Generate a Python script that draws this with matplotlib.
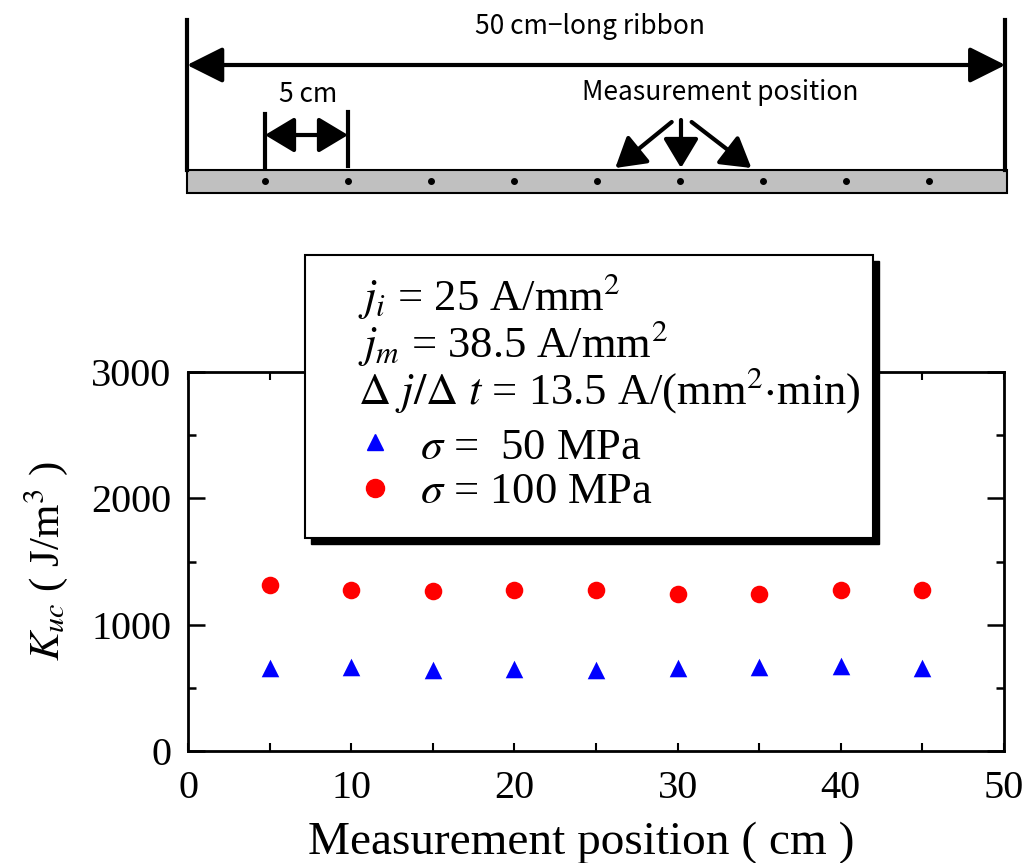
import matplotlib
matplotlib.use("Agg")
import matplotlib.pyplot as plt
from matplotlib.patches import Rectangle

# Posicoes de medida ao longo da fita (cm)
positions = [5, 10, 15, 20, 25, 30, 35, 40, 45]

# K_uc (J/m^3)
kuc_50mpa = [657, 665, 641, 649, 641, 657, 665, 673, 657]
kuc_100mpa = [1317, 1277, 1267, 1277, 1271, 1245, 1245, 1271, 1277]

legend_lines = [
    r"$j_i$ = 25 A/mm$^2$",
    r"$j_m$ = 38.5 A/mm$^2$",
    r"$\mathit{\Delta\ j/\Delta\ t}$ = 13.5 A/(mm$^2$$\cdot$min)",
]
series_labels = [r"$\sigma$ =  50 MPa", r"$\sigma$ = 100 MPa"]

plt.rcParams["font.family"] = ["Liberation Serif", "DejaVu Serif"]
plt.rcParams["mathtext.fontset"] = "stix"

W, H = 1027, 863
fig = plt.figure(figsize=(W / 100, H / 100), dpi=100)

# ---- grafico principal ----
ax = fig.add_axes([188 / W, 1 - 751 / H, (1004 - 188) / W, (751 - 372) / H])
ax.scatter(positions, kuc_50mpa, marker="^", s=160, color="#0000ff", zorder=3, linewidths=0)
ax.scatter(positions, kuc_100mpa, marker="o", s=160, color="#ff0000", zorder=3, linewidths=0)

ax.set_xlim(0, 50)
ax.set_ylim(0, 3000)
ax.set_xticks([0, 10, 20, 30, 40, 50])
ax.set_xticks([5, 15, 25, 35, 45], minor=True)
ax.set_yticks([0, 1000, 2000, 3000])
ax.set_yticks([500, 1500, 2500], minor=True)
for s in ax.spines.values():
    s.set_linewidth(2)
ax.tick_params(axis="x", which="both", direction="in", length=6, width=1.5,
               top=True, labelsize=29, pad=14)
ax.tick_params(axis="y", which="major", direction="in", length=12, width=1.8,
               right=True, labelsize=29, pad=12)
ax.tick_params(axis="y", which="minor", direction="in", length=6, width=1.8, right=True)
ax.set_xlabel("Measurement position ( cm )", fontsize=34)
ax.xaxis.set_label_coords(0.482, -0.185)
ax.set_ylabel(r"$K_{uc}$ ( J/m$^3$ )", fontsize=31)
ax.yaxis.set_label_coords(-0.145, 0.5)

# ---- caixa de legenda com sombra ----
bx0, by0, bx1, by1 = 305, 255, 873, 538
fig.patches.append(Rectangle(((bx0 + 6) / W, 1 - (by1 + 6) / H), (bx1 - bx0) / W, (by1 - by0) / H,
                             transform=fig.transFigure, facecolor="black", edgecolor="black",
                             zorder=5))
fig.patches.append(Rectangle((bx0 / W, 1 - by1 / H), (bx1 - bx0) / W, (by1 - by0) / H,
                             transform=fig.transFigure, facecolor="white", edgecolor="black",
                             linewidth=1.5, zorder=6))
fig.text(358 / W, 1 - 343 / H, "\n".join(legend_lines), fontsize=32, va="center", ha="left",
         linespacing=0.93, zorder=7)
fig.text(420 / W, 1 - 470 / H, "\n".join(series_labels), fontsize=32, va="center", ha="left",
         linespacing=1.1, zorder=7)
fig.lines.append(plt.Line2D([375 / W], [1 - 442 / H], marker="^", markersize=12, color="#0000ff",
                            linestyle="none", transform=fig.transFigure, zorder=7))
fig.lines.append(plt.Line2D([375 / W], [1 - 488 / H], marker="o", markersize=13, color="#ff0000",
                            linestyle="none", transform=fig.transFigure, zorder=7))

# ---- esquema da fita no topo ----
d = fig.add_axes([182 / W, 1 - 210 / H, (1012 - 182) / W, 210 / H])
d.set_xlim(0, 50)
d.set_ylim(210, 0)
d.axis("off")
sans = ["Noto Sans CJK JP", "DejaVu Sans"]

d.add_patch(Rectangle((0.3, 170), 49.4, 23, facecolor="#c0c0c0", edgecolor="black", linewidth=1.5))
d.plot(positions, [181] * len(positions), "o", color="black", markersize=4)
d.plot([0.3, 0.3], [20, 170], color="black", linewidth=3)
d.plot([49.6, 49.6], [20, 170], color="black", linewidth=3)
d.annotate("", xy=(49.6, 65), xytext=(0.3, 65),
           arrowprops=dict(arrowstyle="<|-|>,head_length=1.0,head_width=0.5", mutation_scale=22,
                           lw=3, color="black", shrinkA=0, shrinkB=0))
d.text(24.6, 27, "50 cm\u2212long ribbon", fontsize=19, ha="center", va="center", family=sans)

d.plot([positions[0], positions[0]], [114, 168], color="black", linewidth=3)
d.plot([positions[1], positions[1]], [112, 166], color="black", linewidth=3)
d.annotate("", xy=(positions[1], 135), xytext=(positions[0], 135),
           arrowprops=dict(arrowstyle="<|-|>,head_length=1.0,head_width=0.6", mutation_scale=18,
                           lw=3, color="black", shrinkA=0, shrinkB=0))
d.text(7.6, 94, "5 cm", fontsize=19, ha="center", va="center", family=sans)

d.text(32.4, 92, "Measurement position", fontsize=19, ha="center", va="center", family=sans)
for (x0, y0), (x1, y1) in [((29.5, 122), (26.1, 168)), ((30.06, 120), (30.06, 168)),
                           ((30.7, 122), (34.3, 168))]:
    d.annotate("", xy=(x1, y1), xytext=(x0, y0),
               arrowprops=dict(arrowstyle="-|>,head_length=1.0,head_width=0.6", mutation_scale=18,
                               lw=3, color="black", shrinkA=0, shrinkB=0))

fig.savefig("out.png", dpi=100)
